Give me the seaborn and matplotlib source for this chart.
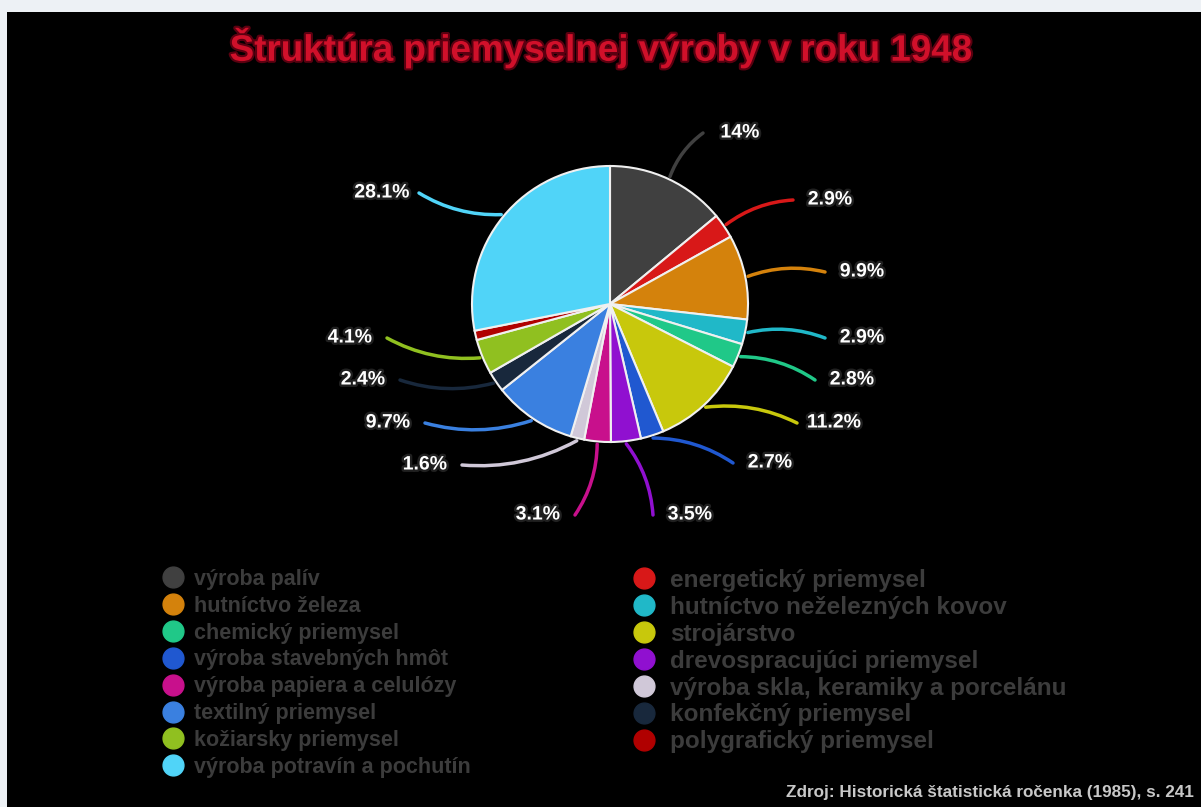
import numpy as np
import matplotlib
matplotlib.use("Agg")
import matplotlib.pyplot as plt
import matplotlib.patheffects as pe
from matplotlib.lines import Line2D
import seaborn as sns

sns.set_theme(style="white")
plt.rcParams['font.family'] = ['Liberation Sans', 'DejaVu Sans']

# data
odvetvia = [
    'výroba palív', 'energetický priemysel',
    'hutníctvo železa', 'hutníctvo neželezných kovov',
    'chemický priemysel', 'strojárstvo',
    'výroba stavebných hmôt', 'drevospracujúci priemysel',
    'výroba papiera a celulózy', 'výroba skla, keramiky a porcelánu',
    'textilný priemysel', 'konfekčný priemysel',
    'kožiarsky priemysel', 'polygrafický priemysel',
    'výroba potravín a pochutín',
]
podiel = [14.0, 2.9, 9.9, 2.9, 2.8, 11.2, 2.7, 3.5, 3.1, 1.6, 9.7, 2.4, 4.1, 1.1, 28.1]
popisky = ['14%', '2.9%', '9.9%', '2.9%', '2.8%', '11.2%', '2.7%', '3.5%', '3.1%',
           '1.6%', '9.7%', '2.4%', '4.1%', '', '28.1%']
farby = ['#404040', '#d81818', '#d4820c', '#20b8c8', '#20c888', '#c8c80c',
         '#2058d0', '#9010d0', '#c8108c', '#d0c8d8', '#3a80e0', '#18283c',
         '#90c020', '#b00000', '#50d4f8']

# label positions in pixels (layout)
label_px = [(740, 133), (830, 200), (862, 272), (862, 338), (852, 380), (834, 423),
            (770, 463), (690, 515), (538, 515), (425, 465), (388, 423), (363, 380),
            (350, 338), None, (382, 193)]

W, H = 1201, 807
cx, cy, R = 610, 304, 138

fig = plt.figure(figsize=(W / 100, H / 100), dpi=100)
fig.patch.set_facecolor('#edf1f5')
bg = fig.add_axes([7 / W, 0, (W - 7) / W, (H - 12) / H])
bg.set_facecolor('black')
bg.set_xticks([])
bg.set_yticks([])
for s in bg.spines.values():
    s.set_visible(False)

ax = fig.add_axes([(cx - R) / W, (H - cy - R) / H, 2 * R / W, 2 * R / H])
ax.set_facecolor('none')
wedges, _ = ax.pie(podiel, colors=farby, startangle=90, counterclock=False,
                   radius=1.0, wedgeprops=dict(edgecolor='#f0f0f0', linewidth=1.5))
ax.set_xlim(-1, 1)
ax.set_ylim(-1, 1)
ax.set_aspect('equal')
ax.axis('off')

outline = [pe.withStroke(linewidth=3.5, foreground='#202020')]
for w, txt, pos, col in zip(wedges, popisky, label_px, farby):
    if pos is None:
        continue
    ang = np.deg2rad((w.theta1 + w.theta2) / 2)
    sx, sy = 1.02 * np.cos(ang), 1.02 * np.sin(ang)
    tx, ty = (pos[0] - cx) / R, (cy - pos[1]) / R
    ex = tx - 37 / R if pos[0] > cx else tx + 37 / R
    ax.annotate('', xy=(sx, sy), xytext=(ex, ty), annotation_clip=False,
                arrowprops=dict(arrowstyle='-', color=col, lw=2.5,
                                connectionstyle='arc3,rad=0.15', shrinkA=0, shrinkB=0))
    ax.text(tx, ty, txt, ha='center', va='center', color='white', fontsize=14,
            fontweight='bold', clip_on=False, path_effects=outline)

fig.text(0.5, 1 - 48 / H, 'Štruktúra priemyselnej výroby v roku 1948', ha='center',
         va='center', color='#d0102a', fontsize=26.5, fontweight='bold',
         path_effects=[pe.withStroke(linewidth=3, foreground='#5a0010')])

handles = [Line2D([0], [0], marker='o', linestyle='', markersize=15,
                  markerfacecolor=c, markeredgecolor=c, label=l)
           for c, l in zip(farby, odvetvia)]

# left column: even items, right column: odd items
left = list(range(0, 15, 2))
right = list(range(1, 15, 2))
leg1 = fig.legend([handles[i] for i in left], [odvetvia[i] for i in left],
                  loc='upper left', bbox_to_anchor=(160 / W, 1 - 569 / H),
                  frameon=False, fontsize=15.5, labelspacing=0.27, handletextpad=0.4,
                  handlelength=1.2, borderaxespad=0, borderpad=0)
leg2 = fig.legend([handles[i] for i in right], [odvetvia[i] for i in right],
                  loc='upper left', bbox_to_anchor=(631 / W, 1 - 569 / H),
                  frameon=False, fontsize=17.5, labelspacing=0.16, handletextpad=0.5,
                  handlelength=1.1, borderaxespad=0, borderpad=0)
for leg in (leg1, leg2):
    for t in leg.get_texts():
        t.set_color('#3c3c3c')
        t.set_fontweight('bold')

fig.text(1194 / W, 1 - 792 / H, 'Zdroj: Historická štatistická ročenka (1985), s. 241',
         ha='right', va='center', color='#c8c8c8', fontsize=12.3, fontweight='bold')

fig.savefig('out.png', dpi=100, facecolor=fig.get_facecolor())
